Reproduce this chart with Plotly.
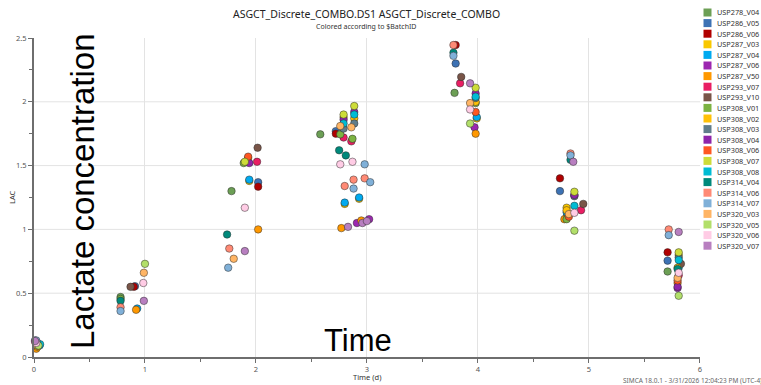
import plotly.graph_objects as go

batch_ids = ["USP278_V04", "USP286_V05", "USP286_V06", "USP287_V03", "USP287_V04",
             "USP287_V06", "USP287_V50", "USP293_V07", "USP293_V10", "USP308_V01",
             "USP308_V02", "USP308_V03", "USP308_V04", "USP308_V06", "USP308_V07",
             "USP308_V08", "USP314_V04", "USP314_V06", "USP314_V07", "USP320_V03",
             "USP320_V05", "USP320_V06", "USP320_V07"]

colors = ["#6C9F55", "#3D72B4", "#B00000", "#F9C800", "#00AAF0",
          "#9C27B0", "#FF9800", "#E91E63", "#795548", "#7CB342",
          "#FFC107", "#607D8B", "#8E24AA", "#FF5722", "#CDDC39",
          "#00BCD4", "#00897B", "#FF8A75", "#80B0D8", "#FFB565",
          "#B2DF6A", "#FFCCE5", "#B87FC0"]

# sampling time (d) per batch
days = [
    [0.02, 0.78, 1.78, 2.58, 3.79, 4.80, 5.71],            # USP278_V04
    [0.01, 0.91, 2.02, 2.72, 3.80, 4.74, 5.71],            # USP286_V05
    [0.02, 0.90, 2.02, 2.72, 3.80, 4.74, 5.71],            # USP286_V06
    [0.03, 1.94, 2.80, 2.93, 3.99, 4.80, 5.81],            # USP287_V03
    [0.05, 0.93, 1.94, 2.80, 2.93, 3.99, 4.80, 5.81],      # USP287_V04
    [0.02, 2.91, 3.02, 3.97, 4.87, 5.80],                  # USP287_V06
    [0.02, 0.92, 2.02, 2.77, 2.95, 3.98, 4.78, 5.80],      # USP287_V50
    [0.02, 2.01, 2.79, 2.86, 3.84, 4.93, 5.81],            # USP293_V07
    [0.02, 0.87, 2.015, 3.85, 4.95, 5.83],                 # USP293_V10
    [0.03, 0.78, 1.89, 2.76, 2.87, 3.98, 4.80],            # USP308_V01
    [0.03, 1.93, 2.79, 2.886, 3.98, 4.80, 5.80],           # USP308_V02
    [0.02, 2.79, 2.886, 3.98, 4.87, 5.81],                 # USP308_V03
    [0.02, 1.94, 2.79, 2.886, 3.98, 4.87, 5.80],           # USP308_V04
    [0.03, 1.93, 3.98, 4.82, 5.80],                        # USP308_V06
    [0.04, 1.90, 2.79, 2.886, 3.98, 4.87, 5.81],           # USP308_V07
    [0.055, 2.79, 2.886, 3.98, 4.87, 5.81],                # USP308_V08
    [0.03, 0.78, 1.74, 2.75, 2.81, 3.78, 4.835, 5.80],     # USP314_V04
    [0.01, 0.78, 1.76, 2.80, 2.88, 2.98, 3.78, 4.835, 5.72],  # USP314_V06
    [0.02, 0.78, 1.75, 2.88, 2.98, 3.03, 3.78, 4.835, 5.72],  # USP314_V07
    [0.03, 0.99, 1.80, 2.76, 2.86, 3.93, 4.82, 5.80],      # USP320_V03
    [0.04, 1.00, 3.93, 4.87, 5.81],                        # USP320_V05
    [0.02, 0.985, 1.90, 2.76, 2.87, 3.93, 4.87, 5.81],     # USP320_V06
    [0.01, 0.99, 1.90, 2.83, 2.96, 3.00, 3.93, 4.86, 5.81],  # USP320_V07
]

# lactate concentration (LAC) per batch
lac = [
    [0.09, 0.47, 1.30, 1.745, 2.07, 1.10, 0.67],
    [0.13, 0.555, 1.37, 1.77, 2.30, 1.30, 0.755],
    [0.11, 0.55, 1.335, 1.75, 2.445, 1.40, 0.82],
    [0.08, 1.38, 1.20, 1.24, 1.87, 1.17, 0.80],
    [0.09, 0.38, 1.39, 1.21, 1.25, 1.88, 1.135, 0.70],
    [0.12, 1.05, 1.08, 1.80, 1.27, 0.54],
    [0.065, 0.37, 1.00, 1.01, 1.07, 1.75, 1.08, 0.58],
    [0.10, 1.53, 1.72, 1.69, 2.145, 1.15, 0.64],
    [0.11, 0.55, 1.64, 2.195, 1.20, 0.73],
    [0.10, 0.455, 1.52, 1.745, 1.71, 1.99, 1.08],
    [0.08, 1.56, 1.88, 1.87, 2.00, 1.15, 0.70],
    [0.12, 1.79, 1.83, 2.03, 1.26, 0.78],
    [0.12, 1.52, 1.86, 1.92, 2.065, 1.27, 0.55],
    [0.09, 1.57, 1.92, 1.10, 0.60],
    [0.10, 1.53, 1.90, 1.967, 2.11, 1.295, 0.82],
    [0.10, 1.83, 1.90, 2.04, 1.185, 0.76],
    [0.10, 0.44, 0.96, 1.62, 1.58, 2.385, 1.545, 0.69],
    [0.12, 0.39, 0.85, 1.34, 1.39, 1.40, 2.445, 1.595, 1.00],
    [0.13, 0.36, 0.70, 1.32, 1.51, 1.37, 2.36, 1.58, 0.955],
    [0.09, 0.66, 0.77, 1.81, 1.80, 1.99, 1.12, 0.62],
    [0.09, 0.73, 1.83, 0.99, 0.48],
    [0.11, 0.58, 1.17, 1.51, 1.53, 1.94, 1.13, 0.66],
    [0.125, 0.44, 0.83, 1.02, 1.05, 1.065, 2.145, 1.53, 0.98],
]

x_ticks = [0, 1, 2, 3, 4, 5, 6]
y_ticks = [0, 0.5, 1, 1.5, 2, 2.5]
y_grid = [0.5, 1, 1.5, 2]

W, H = 761, 385
L, R, T, B = 34, 61, 38, 28
pw, ph = W - L - R, H - T - B


def px(x):
    return (x - L) / pw


def py(y):
    return (H - B - y) / ph


FONT = "Noto Sans"
fig = go.Figure()
for name, c, d, v in zip(batch_ids, colors, days, lac):
    fig.add_trace(go.Scatter(
        x=d, y=v, mode="markers", name=name, showlegend=False, cliponaxis=False,
        marker=dict(size=7.5, color=c, line=dict(color="rgba(40,40,40,0.6)", width=0.8)),
    ))

shapes = []
for g in y_grid:
    shapes.append(dict(type="line", xref="paper", yref="y", x0=0, x1=1, y0=g, y1=g,
                       line=dict(color="#e3e3e3", width=1), layer="below"))

annotations = [
    dict(text="ASGCT_Discrete_COMBO.DS1 ASGCT_Discrete_COMBO", x=px(366), y=py(14),
         font=dict(size=10.5, color="#222", family=FONT)),
    dict(text="Colored according to $BatchID", x=px(366), y=py(27),
         font=dict(size=7, color="#333", family=FONT)),
    dict(text="LAC", x=px(12), y=py(197), textangle=-90,
         font=dict(size=7.5, color="#333", family=FONT)),
    dict(text="Time (d)", x=px(367), y=py(377),
         font=dict(size=7.5, color="#333", family=FONT)),
    dict(text="SIMCA 18.0.1 - 3/31/2026 12:04:23 PM (UTC-4)", x=px(764), y=py(380),
         xanchor="right", font=dict(size=6.5, color="#666", family=FONT)),
    dict(text="Lactate concentration", x=px(83), y=py(191), textangle=-90,
         font=dict(size=33, color="#000", family="Liberation Sans")),
    dict(text="Time", x=px(358), y=py(340),
         font=dict(size=31, color="#000", family="Liberation Sans")),
]

for i, (name, c) in enumerate(zip(batch_ids, colors)):
    yc = 12.5 + i * 10.6
    shapes.append(dict(type="rect", xref="paper", yref="paper",
                       x0=px(703.5), x1=px(711.5), y0=py(yc + 4), y1=py(yc - 4),
                       fillcolor=c, line=dict(width=0)))
    annotations.append(dict(text=name, x=px(715), y=py(yc), xanchor="left",
                            font=dict(size=7.3, color="#333", family=FONT)))

for a in annotations:
    a.setdefault("xref", "paper")
    a.setdefault("yref", "paper")
    a.setdefault("showarrow", False)
    a.setdefault("xanchor", "center")
    a.setdefault("yanchor", "middle")

axis_common = dict(
    showline=True, linecolor="#6e6e6e", linewidth=2, ticks="outside", ticklen=4,
    tickcolor="#6e6e6e", zeroline=False, tickfont=dict(size=7.5, color="#555", family=FONT),
)

fig.update_layout(
    width=W, height=H, margin=dict(l=L, r=R, t=T, b=B, autoexpand=False),
    paper_bgcolor="white", plot_bgcolor="white", showlegend=False,
    xaxis=dict(range=[0, 6.002], tickvals=x_ticks, showgrid=True, gridcolor="#e3e3e3",
               minor=dict(dtick=0.5, ticks="outside", ticklen=3, tickcolor="#6e6e6e", showgrid=False),
               **axis_common),
    yaxis=dict(range=[0, 2.5], tickvals=y_ticks, showgrid=False,
               minor=dict(dtick=0.25, ticks="outside", ticklen=3, tickcolor="#6e6e6e", showgrid=False),
               **axis_common),
    shapes=shapes, annotations=annotations,
)

fig.write_html("out.html", config={"displayModeBar": False},
               post_script="document.body.style.margin='0px';document.body.style.padding='0px';")
